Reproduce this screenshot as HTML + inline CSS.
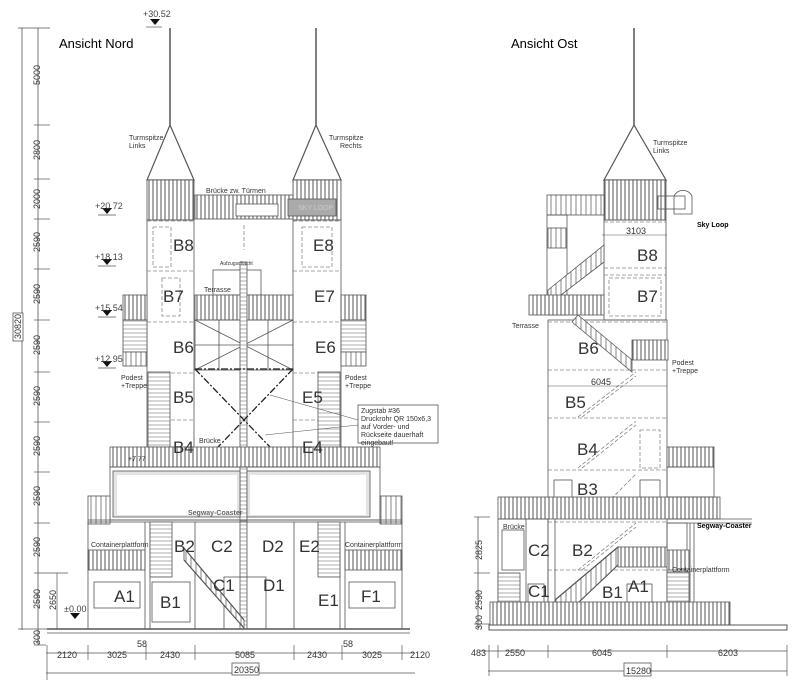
<!DOCTYPE html>
<html><head><meta charset="utf-8"><style>
html,body{margin:0;padding:0;background:#fff;}
svg{display:block;}
text{font-family:"Liberation Sans",sans-serif;fill:#333;}
.t{font-size:7px;}
.b{font-size:17px;fill:#555;}
.d{font-size:9px;fill:#444;}
</style></head><body>
<svg width="800" height="693" viewBox="0 0 800 693" xmlns="http://www.w3.org/2000/svg">
<defs>
<pattern id="sl" width="4" height="10" patternUnits="userSpaceOnUse"><rect width="4" height="10" fill="#fff"/><line x1="1" y1="0" x2="1" y2="10" stroke="#555" stroke-width="1"/></pattern>
<pattern id="sl2" width="5" height="10" patternUnits="userSpaceOnUse"><rect width="5" height="10" fill="#fff"/><line x1="1" y1="0" x2="1" y2="10" stroke="#666" stroke-width="0.8"/></pattern>
<pattern id="hz" width="10" height="4" patternUnits="userSpaceOnUse"><rect width="10" height="4" fill="#fff"/><line x1="0" y1="1" x2="10" y2="1" stroke="#888" stroke-width="0.7"/></pattern>
</defs>
<rect width="800" height="693" fill="#fff"/>
<g stroke="#555" fill="none" stroke-width="0.8">
<line x1="22" y1="28" x2="22" y2="630"/><line x1="38" y1="28" x2="38" y2="645"/>
<g stroke-width="0.7">
<line x1="18" y1="28" x2="50" y2="28"/><line x1="34" y1="125" x2="50" y2="125"/><line x1="34" y1="179" x2="50" y2="179"/><line x1="34" y1="219" x2="50" y2="219"/><line x1="34" y1="269" x2="50" y2="269"/><line x1="34" y1="320" x2="50" y2="320"/><line x1="34" y1="372" x2="50" y2="372"/><line x1="34" y1="422" x2="50" y2="422"/><line x1="34" y1="472" x2="50" y2="472"/><line x1="34" y1="523" x2="50" y2="523"/><line x1="34" y1="573" x2="68" y2="573"/><line x1="18" y1="629" x2="100" y2="629"/><line x1="34" y1="645" x2="46" y2="645"/>
<line x1="57" y1="573" x2="57" y2="629"/>
</g>
<rect x="13" y="313" width="10" height="28" fill="#fff"/>
<g stroke-width="0.7">
<line x1="146" y1="27" x2="162" y2="27"/><line x1="98" y1="215" x2="116" y2="215"/><line x1="98" y1="266" x2="116" y2="266"/><line x1="98" y1="317" x2="116" y2="317"/><line x1="98" y1="368" x2="116" y2="368"/>
</g>
<line x1="170" y1="28" x2="170" y2="125" stroke-width="1.5"/><line x1="316" y1="28" x2="316" y2="125" stroke-width="1.5"/>
<polygon points="170,125 147,180 194,180" stroke-width="1.2"/><polygon points="316,125 293,180 341,180" stroke-width="1.2"/>
<rect x="147" y="180" width="47" height="40" fill="url(#sl)"/><rect x="293" y="180" width="48" height="40" fill="url(#sl)"/>
<rect x="147" y="220" width="47" height="227"/><rect x="293" y="220" width="48" height="227"/>
<rect x="195" y="195" width="98" height="24" fill="url(#sl)"/>
<rect x="288" y="199" width="48" height="17" fill="#aaa"/>
<rect x="236" y="204" width="42" height="12" fill="#fff"/>
<g stroke-dasharray="4,2" stroke="#888">
<line x1="147" y1="221" x2="194" y2="221"/><line x1="293" y1="221" x2="341" y2="221"/>
<line x1="147" y1="271" x2="194" y2="271"/><line x1="293" y1="271" x2="341" y2="271"/>
<line x1="147" y1="322" x2="194" y2="322"/><line x1="293" y1="322" x2="341" y2="322"/>
<line x1="147" y1="373" x2="194" y2="373"/><line x1="293" y1="373" x2="341" y2="373"/>
<line x1="147" y1="420" x2="194" y2="420"/><line x1="293" y1="420" x2="341" y2="420"/>
<rect x="153" y="227" width="18" height="40"/><rect x="302" y="227" width="30" height="40"/>
<rect x="162" y="278" width="18" height="38"/>
<line x1="244" y1="225" x2="244" y2="250"/>
</g>
<rect x="123" y="295" width="24" height="25" fill="url(#sl)"/><rect x="341" y="295" width="25" height="25" fill="url(#sl)"/>
<rect x="123" y="320" width="24" height="32" fill="url(#hz)"/><rect x="341" y="320" width="25" height="32" fill="url(#hz)"/>
<rect x="123" y="352" width="24" height="14" fill="url(#sl2)"/><rect x="341" y="352" width="25" height="14" fill="url(#sl2)"/>
<rect x="148" y="372" width="22" height="75" fill="url(#hz)"/><rect x="318" y="372" width="22" height="75" fill="url(#hz)"/>
<rect x="213" y="270" width="48" height="25"/>
<rect x="195" y="295" width="98" height="25" fill="url(#sl)"/>
<rect x="195" y="320" width="98" height="50"/>
<path d="M195,320 L293,370 M293,320 L195,370 M219,320 V370 M268,320 V370 M195,345 H293"/>
<rect x="240" y="262" width="7" height="367" fill="url(#hz)"/>
<g stroke="#222" stroke-width="1.3" stroke-dasharray="7,2,2,2">
<line x1="195" y1="369" x2="293" y2="369"/><line x1="195" y1="369" x2="270" y2="447"/><line x1="293" y1="369" x2="218" y2="447"/>
</g>
<line x1="270" y1="395" x2="358" y2="420" stroke-width="0.6"/><line x1="265" y1="435" x2="358" y2="425" stroke-width="0.6"/>
<rect x="358" y="405" width="80" height="38" fill="#fff"/>
<rect x="110" y="447" width="270" height="20" fill="url(#sl)"/>
<rect x="110" y="467" width="270" height="53"/>
<rect x="113" y="471" width="127" height="46" fill="#e4e4e4"/><rect x="247" y="471" width="123" height="46" fill="#e4e4e4"/>
<rect x="117" y="475" width="120" height="40" fill="#fff" stroke="none"/><rect x="250" y="475" width="116" height="40" fill="#fff" stroke="none"/>
<rect x="88" y="496" width="22" height="28" fill="url(#sl2)"/><rect x="380" y="496" width="22" height="28" fill="url(#sl2)"/>
<line x1="88" y1="520" x2="402" y2="520"/>
<rect x="88" y="522" width="314" height="107"/>
<line x1="145" y1="522" x2="145" y2="629"/><line x1="150" y1="522" x2="150" y2="629"/>
<line x1="195" y1="522" x2="195" y2="629"/><line x1="294" y1="522" x2="294" y2="629"/>
<line x1="340" y1="522" x2="340" y2="629"/><line x1="345" y1="522" x2="345" y2="629"/>
<rect x="88" y="550" width="57" height="20" fill="url(#sl)"/><rect x="345" y="550" width="57" height="20" fill="url(#sl)"/>
<rect x="150" y="522" width="22" height="55" fill="url(#hz)"/><rect x="318" y="522" width="22" height="55" fill="url(#hz)"/>
<rect x="94" y="582" width="46" height="26"/><rect x="152" y="582" width="38" height="40"/><rect x="349" y="582" width="46" height="26"/>
<rect x="224" y="577" width="42" height="52"/>
<polygon points="184,548 244,620 244,628 184,560" fill="url(#sl2)"/>
<line x1="184" y1="548" x2="244" y2="620" stroke-width="1.2"/><line x1="184" y1="560" x2="244" y2="628" stroke-width="1.2"/>
<line x1="47" y1="629" x2="410" y2="629" stroke-width="1.4"/>
<line x1="47" y1="633" x2="410" y2="633"/>
<line x1="46" y1="653" x2="415" y2="653"/><line x1="46" y1="673" x2="415" y2="673"/>
<g stroke-width="0.7"><line x1="47" y1="645" x2="47" y2="680"/><line x1="88" y1="645" x2="88" y2="660"/><line x1="146" y1="645" x2="146" y2="660"/><line x1="195" y1="645" x2="195" y2="660"/><line x1="294" y1="645" x2="294" y2="660"/><line x1="342" y1="645" x2="342" y2="660"/><line x1="402" y1="645" x2="402" y2="660"/></g>
<rect x="232" y="663" width="27" height="12" fill="#fff"/>

<line x1="634" y1="28" x2="634" y2="125" stroke-width="1.5"/>
<polygon points="634,125 604,180 666,180" stroke-width="1.2"/>
<rect x="604" y="180" width="62" height="40" fill="url(#sl)"/>
<rect x="604" y="220" width="62" height="100"/>
<rect x="548" y="320" width="119" height="305"/>
<rect x="658" y="196" width="27" height="13"/><path d="M674,196 a10,10 0 0 1 18,0 v18 h-18 z"/>
<line x1="602" y1="235" x2="667" y2="235" stroke-width="0.6"/>
<g stroke-dasharray="4,2" stroke="#888">
<line x1="604" y1="222" x2="666" y2="222"/><line x1="604" y1="268" x2="666" y2="268"/><line x1="604" y1="275" x2="666" y2="275"/><line x1="548" y1="322" x2="667" y2="322"/>
<rect x="609" y="278" width="52" height="38"/>
<line x1="548" y1="370" x2="667" y2="370"/><line x1="548" y1="418" x2="667" y2="418"/><line x1="548" y1="470" x2="667" y2="470"/><line x1="548" y1="522" x2="667" y2="522"/><line x1="548" y1="570" x2="667" y2="570"/>
<rect x="640" y="430" width="20" height="38"/>
<path d="M578,417 L636,372 M582,417 L636,376 M578,468 L636,421 M582,468 L636,425 M578,570 L636,523 M582,570 L636,527 M590,520 L636,474"/>
</g>
<line x1="548" y1="386" x2="667" y2="386" stroke-width="0.6"/>
<rect x="547" y="195" width="57" height="20" fill="url(#sl2)"/>
<rect x="547" y="215" width="20" height="100"/>
<rect x="548" y="228" width="18" height="20" fill="url(#sl2)"/>
<polygon points="548,290 604,245 604,262 548,305" fill="url(#sl2)"/>
<rect x="529" y="295" width="75" height="20" fill="url(#sl)"/>
<polygon points="578,315 632,360 632,372 572,322" fill="url(#sl2)"/>
<rect x="632" y="340" width="36" height="20" fill="url(#sl)"/>
<rect x="554" y="480" width="18" height="20"/><rect x="640" y="480" width="20" height="20"/>
<rect x="498" y="497" width="222" height="22" fill="url(#sl)"/>
<rect x="667" y="447" width="47" height="20" fill="url(#sl)"/><rect x="667" y="467" width="47" height="30"/>
<line x1="667" y1="519" x2="752" y2="519"/><line x1="667" y1="523" x2="752" y2="523"/>
<rect x="498" y="519" width="50" height="106"/><rect x="667" y="523" width="20" height="102"/>
<rect x="502" y="530" width="22" height="40"/><rect x="498" y="573" width="22" height="35" fill="url(#hz)"/>
<rect x="667" y="550" width="22" height="20" fill="url(#sl)"/><rect x="667" y="572" width="22" height="35" fill="url(#hz)"/>
<line x1="526" y1="519" x2="526" y2="625"/><line x1="555" y1="519" x2="555" y2="625"/><line x1="690" y1="523" x2="690" y2="625"/><line x1="694" y1="523" x2="694" y2="625"/>
<rect x="618" y="547" width="49" height="20" fill="url(#sl)"/>
<rect x="627" y="584" width="25" height="24"/><rect x="528" y="584" width="16" height="22"/>
<polygon points="555,600 618,547 618,565 560,620" fill="url(#sl2)"/>
<line x1="555" y1="600" x2="618" y2="547" stroke-width="1.2"/><line x1="560" y1="620" x2="618" y2="565" stroke-width="1.2"/>
<rect x="490" y="602" width="240" height="23" fill="url(#sl)"/>
<rect x="489" y="625" width="298" height="5" stroke-width="1"/>
<line x1="478" y1="517" x2="478" y2="630"/><g stroke-width="0.7"><line x1="474" y1="517" x2="490" y2="517"/><line x1="474" y1="573" x2="490" y2="573"/><line x1="474" y1="624" x2="490" y2="624"/></g>
<line x1="480" y1="651" x2="787" y2="651"/><line x1="488" y1="671" x2="787" y2="671"/>
<g stroke-width="0.7"><line x1="489" y1="645" x2="489" y2="676"/><line x1="498" y1="645" x2="498" y2="658"/><line x1="548" y1="645" x2="548" y2="658"/><line x1="667" y1="645" x2="667" y2="658"/><line x1="787" y1="645" x2="787" y2="676"/></g>
<rect x="624" y="663" width="27" height="13" fill="#fff"/>
</g>
<g fill="#111"><polygon points="150,19 160,19 155,25"/><polygon points="102,208 112,208 107,214"/><polygon points="102,259 112,259 107,265"/><polygon points="102,310 112,310 107,316"/><polygon points="102,361 112,361 107,367"/><polygon points="70,613 80,613 75,619"/></g>

<text x="59" y="48" style="font-size:13px;fill:#000">Ansicht Nord</text>
<text x="511" y="48" style="font-size:13px;fill:#000">Ansicht Ost</text>
<text x="143" y="17" class="d">+30.52</text>
<text x="95" y="209" class="d">+20.72</text><text x="95" y="260" class="d">+18.13</text><text x="95" y="311" class="d">+15.54</text><text x="95" y="362" class="d">+12.95</text>
<text x="64" y="612" class="d">±0.00</text>
<g class="d">
<text transform="translate(40,85) rotate(-90)">5000</text><text transform="translate(40,160) rotate(-90)">2800</text><text transform="translate(40,209) rotate(-90)">2000</text><text transform="translate(40,252) rotate(-90)">2590</text><text transform="translate(40,304) rotate(-90)">2590</text><text transform="translate(40,355) rotate(-90)">2590</text><text transform="translate(40,406) rotate(-90)">2590</text><text transform="translate(40,456) rotate(-90)">2590</text><text transform="translate(40,506) rotate(-90)">2590</text><text transform="translate(40,557) rotate(-90)">2590</text><text transform="translate(40,609) rotate(-90)">2590</text><text transform="translate(56,610) rotate(-90)">2650</text><text transform="translate(40,645) rotate(-90)">300</text><text transform="translate(21,339) rotate(-90)">30820</text>
<text x="57" y="658">2120</text><text x="107" y="658">3025</text><text x="137" y="647">58</text><text x="160" y="658">2430</text><text x="235" y="658">5085</text><text x="307" y="658">2430</text><text x="343" y="647">58</text><text x="362" y="658">3025</text><text x="410" y="658">2120</text><text x="234" y="673">20350</text>
<text x="471" y="656">483</text><text x="505" y="656">2550</text><text x="592" y="656">6045</text><text x="718" y="656">6203</text><text x="626" y="674">15280</text>
<text transform="translate(482,560) rotate(-90)">2825</text><text transform="translate(482,610) rotate(-90)">2590</text><text transform="translate(482,630) rotate(-90)">300</text>
<text x="626" y="234">3103</text><text x="591" y="385">6045</text>
</g>
<g class="b">
<text x="173" y="251">B8</text><text x="313" y="251">E8</text><text x="163" y="302">B7</text><text x="314" y="302">E7</text><text x="173" y="353">B6</text><text x="315" y="353">E6</text><text x="173" y="403">B5</text><text x="302" y="403">E5</text><text x="173" y="453">B4</text><text x="302" y="453">E4</text>
<text x="174" y="552">B2</text><text x="211" y="552">C2</text><text x="262" y="552">D2</text><text x="299" y="552">E2</text><text x="213" y="591">C1</text><text x="263" y="591">D1</text><text x="114" y="602">A1</text><text x="160" y="608">B1</text><text x="318" y="606">E1</text><text x="361" y="602">F1</text>
<text x="637" y="261">B8</text><text x="637" y="302">B7</text><text x="578" y="354">B6</text><text x="565" y="408">B5</text><text x="577" y="455">B4</text><text x="577" y="495">B3</text><text x="572" y="556">B2</text><text x="528" y="556">C2</text><text x="528" y="597">C1</text><text x="602" y="598">B1</text><text x="628" y="592">A1</text>
</g>
<g class="t">
<text x="129" y="140">Turmspitze</text><text x="129" y="148">Links</text><text x="329" y="140">Turmspitze</text><text x="340" y="148">Rechts</text>
<text x="653" y="145">Turmspitze</text><text x="653" y="153">Links</text>
<text x="206" y="193">Brücke zw. Türmen</text><text x="298" y="210" style="fill:#ccc">SKY LOOP</text>
<text x="220" y="265" style="font-size:5px">Aufzugschacht</text><text x="204" y="292">Terrasse</text>
<text x="121" y="380">Podest</text><text x="121" y="388">+Treppe</text><text x="345" y="380">Podest</text><text x="345" y="388">+Treppe</text>
<text x="361" y="413">Zugstab #36</text><text x="361" y="421">Druckrohr QR 150x6,3</text><text x="361" y="429">auf Vorder- und</text><text x="361" y="437">Rückseite dauerhaft</text><text x="361" y="445">eingebaut!</text>
<text x="199" y="443">Brücke</text><text x="128" y="461">+7.77</text>
<text x="188" y="515" style="font-weight:bold;fill:#666">Segway-Coaster</text>
<text x="91" y="547">Containerplattform</text><text x="345" y="547">Containerplattform</text>
<text x="512" y="328">Terrasse</text><text x="672" y="365">Podest</text><text x="672" y="373">+Treppe</text>
<text x="503" y="529">Brücke</text><text x="672" y="572">Containerplattform</text>
<text x="697" y="227" style="font-weight:bold;fill:#000">Sky Loop</text>
<text x="697" y="528" style="font-weight:bold;fill:#000">Segway-Coaster</text>
</g>
</svg>
</body></html>
